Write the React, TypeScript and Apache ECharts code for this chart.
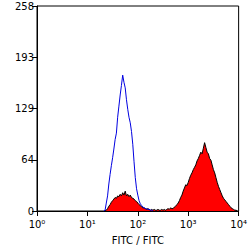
import React, { useEffect, useRef } from "react";
import * as echarts from "echarts";

// histogram bins on a log10 scale, 0.025 decade wide
const STEP = 0.025;
const blueStart = 1.325;
const blueCounts = [
  0, 1, 10, 19, 34, 46, 57, 67, 78, 90, 98, 118, 132, 146, 158, 171, 162, 155, 140, 128,
  118, 111, 100, 84, 62, 42, 28, 20, 13, 9, 7, 5, 4, 3, 3, 2, 2, 1, 1, 0,
];
const redStart = 1.35;
const redCounts = [
  0, 1, 3, 6, 8, 11, 13, 15, 17, 16, 19, 18, 21, 19, 23, 20, 25, 19, 21, 18,
  20, 17, 16, 15, 13, 12, 10, 8, 7, 5, 4, 4, 3, 2, 3, 2, 1, 2, 1, 2,
  1, 1, 2, 1, 1, 2, 1, 2, 1, 2, 3, 2, 4, 3, 3, 5, 6, 8, 10, 13,
  17, 20, 25, 29, 33, 32, 36, 41, 45, 48, 52, 55, 58, 63, 66, 70, 74, 72, 79, 86,
  80, 74, 72, 66, 64, 58, 52, 48, 42, 36, 31, 27, 23, 19, 16, 14, 12, 10, 8, 6,
  4, 3, 2, 1, 1, 0,
];
const yTicks = [0, 64, 129, 193, 258];
const xTickLabels = ["10⁰", "10¹", "10²", "10³", "10⁴"];
const axisTitle = "FITC / FITC";

const toPoints = (start: number, counts: number[]) =>
  counts.map((c, i) => [+(start + i * STEP).toFixed(4), c]);

export default function App() {
  const ref = useRef<HTMLDivElement>(null);
  useEffect(() => {
    if (!ref.current) return;
    const chart = echarts.init(ref.current, undefined, { renderer: "svg" });
    const font = "DejaVu Sans";
    chart.setOption({
      animation: false,
      backgroundColor: "#fff",
      grid: {
        left: 37,
        right: 8,
        top: 6,
        bottom: 33,
        show: true,
        borderColor: "#000",
        borderWidth: 1,
        backgroundColor: "transparent",
      },
      xAxis: {
        type: "value",
        min: 0,
        max: 4,
        interval: 1,
        splitLine: { show: false },
        axisLine: { lineStyle: { color: "#000", width: 1 } },
        axisTick: { show: true, length: 5, lineStyle: { color: "#000" } },
        axisLabel: {
          color: "#000",
          fontSize: 10,
          fontFamily: font,
          margin: 8,
          formatter: (v: number) => xTickLabels[Math.round(v)] ?? "",
        },
        name: axisTitle,
        nameLocation: "middle",
        nameGap: 24,
        nameTextStyle: { color: "#000", fontSize: 10, fontFamily: font },
      },
      yAxis: {
        type: "value",
        min: 0,
        max: 258,
        interval: 64.5,
        splitLine: { show: false },
        axisLine: { show: true, lineStyle: { color: "#000", width: 1 } },
        axisTick: { show: true, length: 5, lineStyle: { color: "#000" } },
        axisLabel: {
          color: "#000",
          fontSize: 10,
          fontFamily: font,
          margin: 3,
          formatter: (v: number) => {
            const f = Math.floor(v);
            return yTicks.includes(f) ? String(f) : "";
          },
        },
      },
      series: [
        {
          type: "line",
          data: toPoints(redStart, redCounts),
          symbol: "none",
          silent: true,
          lineStyle: { color: "#000", width: 1 },
          areaStyle: { color: "#ff0000", opacity: 1 },
          z: 2,
        },
        {
          type: "line",
          data: toPoints(blueStart, blueCounts),
          symbol: "none",
          silent: true,
          lineStyle: { color: "#0000e0", width: 1 },
          z: 3,
        },
      ],
    });
    return () => chart.dispose();
  }, []);
  return (
    <div
      ref={ref}
      style={{ position: "fixed", left: 0, top: 0, width: 250, height: 250 }}
    />
  );
}
